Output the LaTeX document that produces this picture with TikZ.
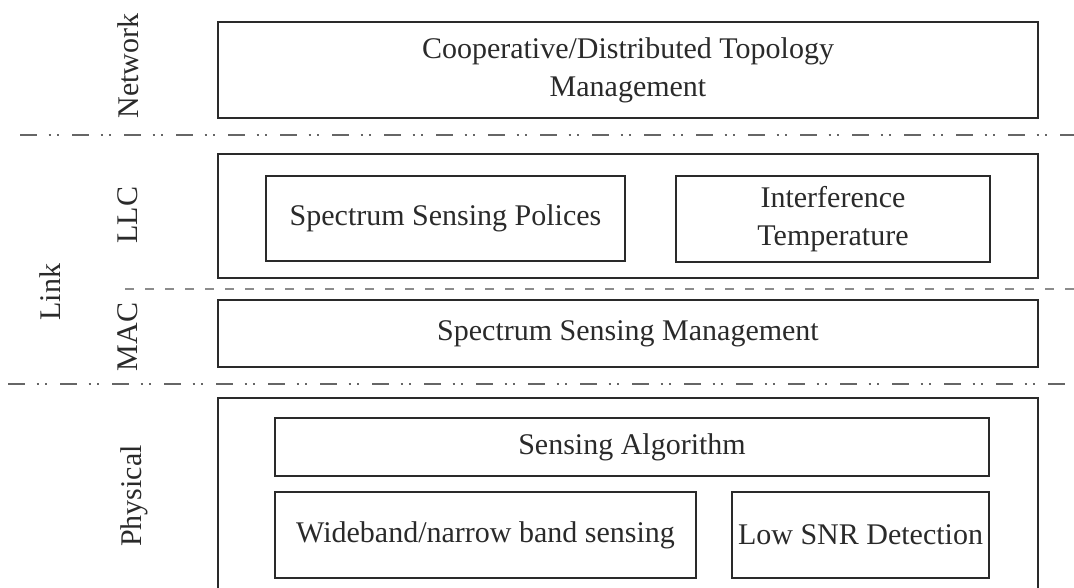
\documentclass[tikz,border=0pt]{standalone}
\usepackage{fontspec}
\setmainfont{Liberation Serif}
\usetikzlibrary{fit}
\definecolor{ink}{HTML}{2A2A2A}
\tikzset{
  box/.style={draw=ink, line width=1.5pt, inner sep=0pt},
  txt/.style={text=ink, align=center, inner sep=0pt,
              font=\fontsize{22.5}{28.5}\selectfont},
  layer/.style={rotate=90, text=ink, font=\fontsize{22.5}{26}\selectfont},
  dashdotdot/.style={draw=black!60, line width=1.3pt,
              dash pattern=on 13pt off 8.5pt on 1.5pt off 5pt on 1.5pt off 9.5pt},
  dashline/.style={draw=black!45, line width=1.3pt, dash pattern=on 7pt off 8pt}
}
\begin{document}
\begin{tikzpicture}[x=0.75pt,y=-0.75pt]
\useasboundingbox (0,0) rectangle (1074,587);
\clip (0,0) rectangle (1074,587);

% outer layer boxes
\node[box, fit={(218,22) (1038,118)}] (net) {};
\node[box, fit={(218,154) (1038,278)}] (llc) {};
\node[box, fit={(218,300) (1038,367)}] (mac) {};
\node[box, fit={(218,398) (1038,620)}] (phy) {};

% inner boxes
\node[box, fit={(266,176) (625,261)}] (pol) {};
\node[box, fit={(676,176) (990,262)}] (itf) {};
\node[box, fit={(275,418) (989,476)}] (alg) {};
\node[box, fit={(275,492) (696,578)}] (wide) {};
\node[box, fit={(732,492) (989,578)}] (snr) {};

% box texts
\node[txt] (tnet) at (628,70) {Cooperative/Distributed Topology\\Management};
\node[txt] (tpol) at (pol.center) {Spectrum Sensing Polices};
\node[txt] (titf) at (itf.center) {Interference\\Temperature};
\node[txt] (tmac) at (mac.center) {Spectrum Sensing Management};
\node[txt] (talg) at (alg.center) {Sensing Algorithm};
\node[txt] (twide) at (wide.center) {Wideband/narrow band sensing};
\node[txt] (tsnr) at (snr.center) {Low SNR Detection};

% layer separators
\coordinate (s1a) at (20,135);  \coordinate (s1b) at (1074,135);
\coordinate (s2a) at (125,289); \coordinate (s2b) at (1074,289);
\coordinate (s3a) at (8,384);   \coordinate (s3b) at (1074,384);
\draw[dashdotdot] (s1a) -- (s1b);
\draw[dashline] (s2a) -- (s2b);
\draw[dashdotdot] (s3a) -- (s3b);

% layer names
\node[layer] (lnet) at (128,66) {Network};
\node[layer] (lllc) at (128,215) {LLC};
\node[layer] (llink) at (50,292) {Link};
\node[layer] (lmac) at (128,337) {MAC};
\node[layer] (lphy) at (134,496) {Physical};
\end{tikzpicture}
\end{document}
